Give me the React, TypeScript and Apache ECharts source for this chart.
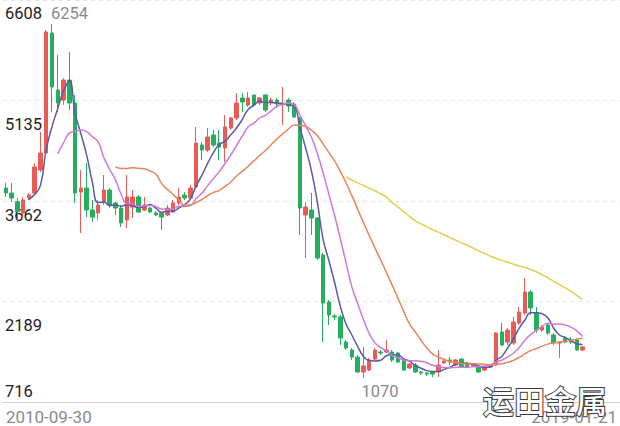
import React, { useEffect, useRef } from "react";
import * as echarts from "echarts";

const startDate = "2010-09-30";
const endDate = "2019-01-21";
const padSlots = 6;

const openVals = [
  3852, 3779, 3652, 3486, 3706, 3779, 4116, 4366, 6124, 5289,
  5142, 5435, 5098, 3794, 3852, 3530, 3486, 3647, 3823, 3633,
  3559, 3383, 3574, 3721, 3530, 3559, 3486, 3486, 3457, 3501,
  3633, 3750, 3706, 3867, 4483, 4409, 4629, 4512, 4439, 4732,
  4879, 5172, 5069, 5216, 5098, 5216, 5098, 5142, 5069, 5142,
  5084, 4879, 3457, 3530, 3413, 2870, 2182, 1976, 1962, 1595,
  1478, 1375, 1156, 1185, 1346, 1449, 1449, 1449, 1434, 1332,
  1215, 1258, 1156, 1141, 1156, 1156, 1288, 1332, 1258, 1346,
  1288, 1244, 1229, 1185, 1229, 1258, 1742, 1595, 1581, 1874,
  2020, 2328, 2020, 1771, 1844, 1698, 1581, 1654, 1625, 1625,
  1478,
];
const closeVals = [
  3779, 3706, 3505, 3677, 3750, 4160, 4366, 6139, 5333, 5098,
  5435, 5098, 3779, 3852, 3530, 3427, 3603, 3823, 3603, 3559,
  3340, 3721, 3721, 3501, 3603, 3501, 3457, 3427, 3559, 3633,
  3721, 3706, 3852, 4512, 4409, 4600, 4483, 4453, 4747, 4879,
  5098, 5113, 5172, 5069, 5172, 4996, 5142, 5084, 5084, 5054,
  4893, 3559, 3574, 3413, 2826, 2167, 1991, 1962, 1654, 1507,
  1375, 1156, 1244, 1332, 1478, 1434, 1478, 1332, 1302, 1185,
  1273, 1156, 1141, 1126, 1126, 1258, 1317, 1302, 1332, 1229,
  1229, 1273, 1156, 1229, 1258, 1727, 1551, 1771, 1888, 2035,
  2328, 2094, 1771, 1815, 1727, 1581, 1595, 1595, 1595, 1478,
  1522,
];
const highVals = [
  3926, 3926, 3706, 3721, 3779, 4219, 4673, 6168, 6254, 5802,
  5465, 5846, 5216, 4116, 4219, 3677, 3677, 4043, 3852, 3647,
  3603, 4043, 3823, 3750, 3721, 3574, 3515, 3486, 3603, 3677,
  3852, 3794, 3896, 4747, 4527, 4732, 4703, 4703, 4922, 4893,
  5245, 5245, 5260, 5216, 5186, 5216, 5172, 5172, 5333, 5172,
  5113, 4893, 3647, 3779, 3427, 2900, 2211, 2006, 1991, 1625,
  1507, 1405, 1522, 1361, 1507, 1478, 1625, 1478, 1449, 1361,
  1288, 1288, 1170, 1156, 1156, 1478, 1346, 1375, 1346, 1361,
  1302, 1288, 1244, 1244, 1273, 1742, 1874, 1800, 1962, 2108,
  2533, 2357, 2108, 1844, 1874, 1727, 1595, 1683, 1669, 1654,
  1537,
];
const lowVals = [
  3721, 3647, 3354, 3413, 3677, 3750, 4087, 4336, 4966, 4966,
  5069, 4996, 3633, 3193, 3427, 3354, 3383, 3603, 3559, 3457,
  3281, 3266, 3413, 3486, 3515, 3486, 3442, 3237, 3442, 3486,
  3603, 3677, 3677, 3852, 4263, 4380, 4453, 4263, 4234, 4703,
  4849, 4966, 5040, 5040, 5069, 4966, 5069, 5025, 4776, 4966,
  4879, 3164, 2826, 3164, 2797, 1595, 1844, 1918, 1551, 1478,
  1332, 1141, 1070, 1171, 1332, 1405, 1434, 1302, 1288, 1171,
  1200, 1141, 1112, 1097, 1082, 1082, 1273, 1258, 1244, 1215,
  1215, 1229, 1141, 1171, 1215, 1244, 1537, 1551, 1551, 1844,
  1991, 1991, 1727, 1742, 1698, 1551, 1361, 1581, 1566, 1463,
  1463,
];

const yTicks = [716, 2189, 3662, 5135, 6608];

const maDefs = [
  { name: "MA5", days: 5, color: "#5a5aa8" },
  { name: "MA10", days: 10, color: "#cf7ad6" },
  { name: "MA20", days: 20, color: "#e8855d" },
  { name: "MA60", days: 60, color: "#e2cf52" },
];

const UP = "#ec5a55";
const DOWN = "#22b05f";

function buildCategories(): string[] {
  const out: string[] = [];
  for (let k = 0; k < openVals.length; k++) {
    const m = 8 + k;
    const y = 2010 + Math.floor(m / 12);
    const mm = (m % 12) + 1;
    out.push(k === 0 ? startDate : `${y}-${String(mm).padStart(2, "0")}`);
  }
  for (let p = 1; p < padSlots; p++) out.push(`pad${p}`);
  out.push(endDate);
  return out;
}

function movingAverage(days: number): (number | string)[] {
  const res: (number | string)[] = [];
  for (let i = 0; i < closeVals.length; i++) {
    if (i < days - 1) {
      res.push("-");
      continue;
    }
    let s = 0;
    for (let j = 0; j < days; j++) s += closeVals[i - j];
    res.push(+(s / days).toFixed(1));
  }
  return res;
}

export default function App() {
  const ref = useRef<HTMLDivElement>(null);
  useEffect(() => {
    if (!ref.current) return;
    const chart = echarts.init(ref.current, undefined, { renderer: "svg" });
    const categories = buildCategories();
    const candleData = openVals.map((o, i) => [o, closeVals[i], lowVals[i], highVals[i]]);
    const labelKey: Record<number, string> = {};
    const labelPad: Record<string, number[]> = {
      a: [0, 0, 21, 0],
      b: [47, 0, 0, 0],
      c: [28, 0, 0, 0],
      d: [47, 0, 0, 0],
      e: [26, 0, 0, 0],
    };
    yTicks.forEach((t, i) => (labelKey[t] = "abcde"[i]));
    const rich: Record<string, any> = {};
    Object.keys(labelPad).forEach((k) => {
      rich[k] = {
        fontSize: 16.5,
        fontFamily: "Roboto",
        color: "#1c1c1c",
        lineHeight: 18,
        padding: labelPad[k],
      };
    });
    const lastIdx = categories.length - 1;
    const option: any = {
      animation: false,
      backgroundColor: "#ffffff",
      grid: {
        left: 3,
        right: 0,
        top: 0,
        bottom: 24,
        containLabel: false,
        outerBoundsMode: "none",
      },
      xAxis: {
        type: "category",
        data: categories,
        boundaryGap: true,
        axisLine: { show: true, lineStyle: { color: "#d2d2d2", width: 1 } },
        axisTick: { show: false },
        splitLine: { show: false },
        axisLabel: {
          interval: 0,
          formatter: (v: string, i: number) => (i === 0 || i === lastIdx ? v : ""),
          color: "#8a8a8a",
          fontSize: 17,
          fontFamily: "Roboto",
          margin: 6,
          alignMinLabel: "left",
          alignMaxLabel: "right",
        },
      },
      yAxis: {
        type: "value",
        min: yTicks[0],
        max: yTicks[yTicks.length - 1],
        interval: yTicks[1] - yTicks[0],
        axisLine: { show: false },
        axisTick: { show: false },
        splitLine: { show: true, lineStyle: { color: "#e3e3e3", type: [4, 4], width: 1 } },
        axisLabel: {
          inside: true,
          margin: 2,
          showMinLabel: true,
          showMaxLabel: true,
          formatter: (v: number) => `{${labelKey[Math.round(v)] || "c"}|${Math.round(v)}}`,
          rich,
        },
      },
      series: [
        {
          name: "K",
          type: "candlestick",
          data: candleData,
          barWidth: 4,
          itemStyle: { color: UP, color0: DOWN, borderColor: UP, borderColor0: DOWN, borderWidth: 1 },
          markPoint: {
            symbol: "circle",
            symbolSize: 1,
            itemStyle: { color: "rgba(0,0,0,0)" },
            label: {
              show: true,
              position: "inside",
              align: "left",
              verticalAlign: "middle",
              color: "#8a8a8a",
              fontSize: 16.5,
              fontFamily: "Roboto",
              formatter: (p: any) => String(p.value),
            },
            data: [
              { type: "max", valueDim: "highest", label: { offset: [-1, -11] } },
              { type: "min", valueDim: "lowest", label: { offset: [-2, 14] } },
            ],
          },
        },
        ...maDefs.map((m) => ({
          name: m.name,
          type: "line",
          data: movingAverage(m.days),
          smooth: true,
          showSymbol: false,
          symbol: "none",
          lineStyle: { color: m.color, width: 1.5 },
          itemStyle: { color: m.color },
          z: 3,
        })),
      ],
      graphic: [
        {
          type: "text",
          left: 482,
          top: 383,
          z: 100,
          style: {
            text: "运田金属",
            fontSize: 31,
            fontWeight: 500,
            fontFamily: '"Noto Sans CJK SC"',
            fill: "#ffffff",
            stroke: "#3a3a3a",
            lineWidth: 2,
          },
        },
      ],
    };
    chart.setOption(option);
    return () => chart.dispose();
  }, []);
  return (
    <div
      ref={ref}
      style={{ position: "fixed", left: 0, top: 0, width: 620, height: 426 }}
    />
  );
}
